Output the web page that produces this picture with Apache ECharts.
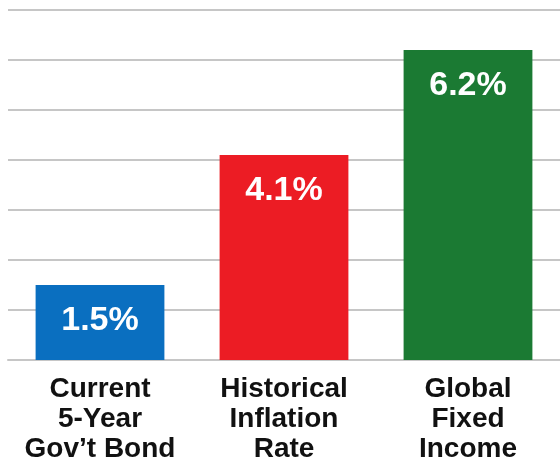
<!DOCTYPE html>
<html>
<head>
<meta charset="utf-8">
<script src="https://cdn.jsdelivr.net/npm/echarts@6/dist/echarts.min.js"></script>
<style>
  html, body { margin: 0; padding: 0; background: #fff; }
  #main { width: 560px; height: 464px; }
</style>
</head>
<body>
<div id="main"></div>
<script>
// categories and values
var categories = ['Current\n5-Year\nGov\u2019t Bond', 'Historical\nInflation\nRate', 'Global\nFixed\nIncome']
var values = [1.5, 4.1, 6.2]
var barColors = ['#0a6fc0', '#ec1c24', '#1b7a33']

var chart = echarts.init(document.getElementById('main'))

var option = {
  animation: false,
  grid: {
    left: 8,
    right: -2,
    top: 10,
    bottom: 101
  },
  xAxis: {
    type: 'category',
    data: categories,
    axisTick: { show: false },
    axisLine: { lineStyle: { color: '#c6c6c6', width: 2 } },
    axisLabel: {
      interval: 0,
      margin: 14,
      color: '#111',
      fontFamily: 'Liberation Sans, Arial, sans-serif',
      fontWeight: 'bold',
      fontSize: 28,
      lineHeight: 30
    }
  },
  yAxis: {
    type: 'value',
    min: 0,
    max: 7,
    interval: 1,
    axisLabel: { show: false },
    axisLine: { show: false },
    axisTick: { show: false },
    splitLine: { lineStyle: { color: '#c6c6c6', width: 2 } }
  },
  series: [{
    type: 'bar',
    barCategoryGap: '30%',
    data: values.map(function (v, i) {
      return { value: v, itemStyle: { color: barColors[i] } }
    }),
    label: {
      show: true,
      position: 'insideTop',
      distance: 19,
      color: '#fff',
      fontFamily: 'Liberation Sans, Arial, sans-serif',
      fontWeight: 'bold',
      fontSize: 34,
      formatter: function (p) { return p.value.toFixed(1) + '%' }
    }
  }]
}

chart.setOption(option)
</script>
</body>
</html>
